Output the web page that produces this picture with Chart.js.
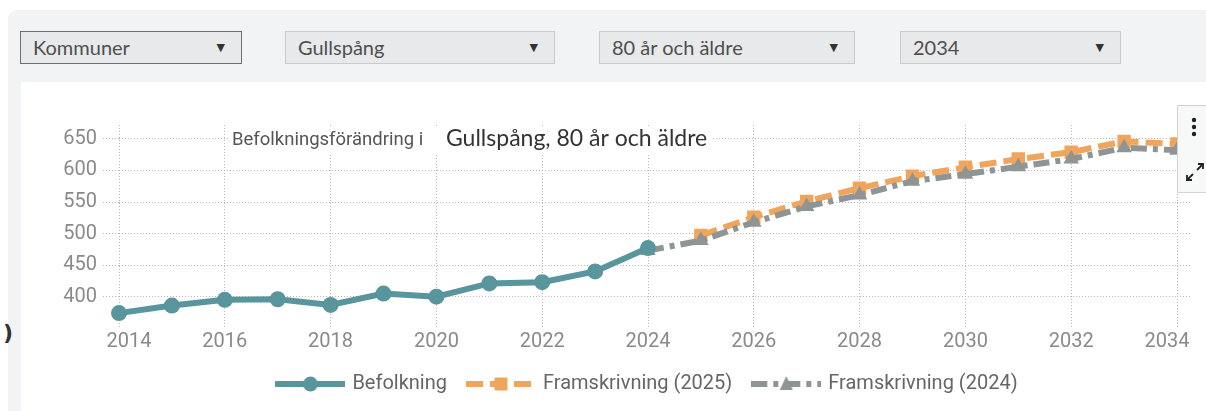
<!DOCTYPE html>
<html>
<head>
<meta charset="utf-8">
<script src="https://cdn.jsdelivr.net/npm/chart.js@4"></script>
<style>
  body { margin: 0; width: 1206px; height: 411px; overflow: hidden; background: #fff; position: relative; font-family: Lato, sans-serif; }
  .panel { position: absolute; left: 8px; top: 10px; right: -20px; bottom: -20px; background: #f2f3f4; border-radius: 9px 0 0 0; }
  .dd { position: absolute; top: 31px; height: 31px; background: #e7e9eb; border: 1px solid #c9cbce; color: #4f4f4f; font-size: 20px; line-height: 31px; box-sizing: content-box; }
  .dd span.t { position: absolute; left: 12px; }
  .dd span.a { position: absolute; right: 16px; font-family: "DejaVu Sans", sans-serif; font-size: 11px; color: #333; }
  .chartbox { position: absolute; left: 21px; top: 82px; width: 1185px; height: 329px; background: #fff; }
  .tools { position: absolute; left: 1177px; top: 105px; width: 40px; height: 86px; background: #f7f8f8; border: 1px solid #d2d4d6; }
  .paren { position: absolute; left: 3px; top: 320px; font: bold 22px "DejaVu Sans", sans-serif; color: #333; }
</style>
</head>
<body>
<div class="panel"></div>
<div class="dd" style="left:20px;width:220px;border-color:#6e7074"><span class="t">Kommuner</span><span class="a">▼</span></div>
<div class="dd" style="left:285px;width:268px"><span class="t">Gullspång</span><span class="a">▼</span></div>
<div class="dd" style="left:599px;width:254px"><span class="t">80 år och äldre</span><span class="a">▼</span></div>
<div class="dd" style="left:900px;width:219px"><span class="t">2034</span><span class="a">▼</span></div>
<div class="chartbox"><canvas id="chart" width="1185" height="329"></canvas></div>
<div class="tools">
  <svg width="30" height="86" viewBox="0 0 30 86">
    <circle cx="16" cy="14" r="2.2" fill="#222"/>
    <circle cx="16" cy="21" r="2.2" fill="#222"/>
    <circle cx="16" cy="28" r="2.2" fill="#222"/>
    <g stroke="#222" stroke-width="1.8" fill="none">
      <line x1="9" y1="74" x2="15" y2="68"/>
      <polyline points="9,69 9,74 14,74"/>
      <line x1="19" y1="64" x2="25" y2="58"/>
      <polyline points="20,58 25,58 25,63"/>
    </g>
  </svg>
</div>
<div class="paren">)</div>
<script>
const years = ['2014','2015','2016','2017','2018','2019','2020','2021','2022','2023','2024',
               '2025','2026','2027','2028','2029','2030','2031','2032','2033','2034'];
const befolkning = [374, 386, 395, 396, 387, 405, 400, 421, 423, 440, 477,
                    null, null, null, null, null, null, null, null, null, null];
const framskrivning2025 = [null, null, null, null, null, null, null, null, null, null, null,
                           497, 526, 551, 572, 591, 605, 618, 629, 646, 642];
const framskrivning2024 = [null, null, null, null, null, null, null, null, null, null, 473,
                           489, 518, 543, 561, 583, 594, 606, 618, 636, 632];
const yTicks = [400, 450, 500, 550, 600, 650];

const TEAL = '#58959c';
const ORANGE = '#f0a55c';
const GRAY = '#8f9494';
const GRID = '#b9b9b9';
const FONT = "Roboto, sans-serif";

// legend symbol: a short piece of the line with its marker in the middle
function legendSymbol(color, dash, style, lw) {
  var c = document.createElement('canvas');
  c.width = 70; c.height = 22;
  var g = c.getContext('2d');
  g.strokeStyle = color; g.fillStyle = color; g.lineWidth = lw;
  g.setLineDash(dash);
  g.beginPath(); g.moveTo(0, 11); g.lineTo(70, 11); g.stroke();
  g.setLineDash([]);
  g.beginPath();
  if (style === 'circle') g.arc(35, 11, 7.5, 0, Math.PI * 2);
  if (style === 'rect') g.rect(28.5, 4.5, 13, 13);
  if (style === 'triangle') { g.moveTo(35, 3); g.lineTo(41.5, 17); g.lineTo(28.5, 17); g.closePath(); }
  g.fill();
  return c;
}

const symbols = [
  legendSymbol(TEAL, [], 'circle', 6),
  legendSymbol(ORANGE, [17, 7], 'rect', 6),
  legendSymbol(GRAY, [16, 6, 5, 6], 'triangle', 6)
];

// two-part heading drawn inside the plot, on a white patch over the grid
const headingPlugin = {
  id: 'heading',
  beforeDatasetsDraw(chart) {
    var ctx = chart.ctx;
    ctx.save();
    ctx.textBaseline = 'middle';
    ctx.font = '23px Lato, sans-serif';
    var w2 = ctx.measureText('Gullspång, 80 år och äldre').width;
    ctx.fillStyle = '#fff';
    ctx.fillRect(208, 44, 425 + w2 - 208 + 4, 27);
    ctx.fillStyle = '#555';
    ctx.font = '18.5px ' + FONT;
    ctx.fillText('Befolkningsförändring i', 211, 58);
    ctx.fillStyle = '#333';
    ctx.font = '23px Lato, sans-serif';
    ctx.fillText('Gullspång, 80 år och äldre', 425, 57);
    ctx.restore();
  }
};

const ctx = document.getElementById('chart').getContext('2d');
new Chart(ctx, {
  type: 'line',
  data: {
    labels: years,
    datasets: [
      {
        label: 'Befolkning',
        data: befolkning,
        order: 0,
        borderColor: TEAL,
        backgroundColor: TEAL,
        borderWidth: 6,
        pointStyle: 'circle',
        pointRadius: 8,
        pointBorderWidth: 0,
        fill: false
      },
      {
        label: 'Framskrivning (2025)',
        data: framskrivning2025,
        order: 2,
        borderColor: ORANGE,
        backgroundColor: ORANGE,
        borderWidth: 6,
        borderDash: [17, 7],
        pointStyle: 'rect',
        pointRadius: 9.5,
        pointBorderWidth: 0,
        fill: false
      },
      {
        label: 'Framskrivning (2024)',
        data: framskrivning2024,
        order: 1,
        borderColor: GRAY,
        backgroundColor: GRAY,
        borderWidth: 6,
        borderDash: [16, 6, 5, 6],
        pointStyle: 'triangle',
        pointRadius: 9,
        pointBorderWidth: 0,
        fill: false
      }
    ]
  },
  options: {
    responsive: false,
    animation: false,
    layout: { padding: { top: 43, right: 0, bottom: 7, left: 0 } },
    plugins: {
      tooltip: { enabled: false },
      legend: {
        position: 'bottom',
        fullSize: false,
        labels: {
          usePointStyle: true,
          pointStyleWidth: 64,
          padding: 22,
          color: '#666',
          font: { family: FONT, size: 20 },
          generateLabels: function(chart) {
            return chart.data.datasets.map(function(ds, i) {
              return {
                text: ds.label,
                pointStyle: symbols[i],
                fillStyle: ds.borderColor,
                strokeStyle: ds.borderColor,
                lineWidth: 0,
                hidden: false,
                datasetIndex: i,
                fontColor: '#666'
              };
            });
          }
        }
      }
    },
    scales: {
      x: {
        type: 'category',
        offset: false,
        grid: {
          color: function(c) { return c.index % 2 === 0 ? GRID : 'transparent'; },
          drawTicks: false
        },
        border: { display: false, dash: [1, 2] },
        ticks: {
          autoSkip: false,
          maxRotation: 0,
          padding: 3,
          color: '#8a8a8a',
          font: { family: FONT, size: 20 },
          callback: function(v, i) {
            if (i % 2 !== 0) return '';
            var s = this.getLabelForValue(v);
            // end labels are pulled inwards a little, as in the original
            if (i === 0) return '    ' + s;
            if (i === years.length - 1) return s + '    ';
            return s;
          }
        },
        afterFit: function(scale) {
          scale.height = 25;
          scale.paddingLeft = 0;
          scale.paddingRight = 0;
        }
      },
      y: {
        min: 352,
        max: 672,
        grid: { color: GRID, tickLength: 16, tickColor: GRID, tickBorderDash: [1, 2] },
        border: { display: false, dash: [1, 2] },
        ticks: { padding: 6, color: '#8a8a8a', font: { family: FONT, size: 20 } },
        afterBuildTicks: function(scale) { scale.ticks = yTicks.map(function(v) { return { value: v }; }); },
        afterFit: function(scale) { scale.width = 98; }
      },
      y2: {
        position: 'right',
        min: 352,
        max: 672,
        grid: { drawOnChartArea: false, color: GRID, tickLength: 13, tickColor: GRID, tickBorderDash: [1, 2] },
        border: { display: false },
        ticks: { display: false },
        afterBuildTicks: function(scale) { scale.ticks = yTicks.map(function(v) { return { value: v }; }); },
        afterFit: function(scale) { scale.width = 29; }
      }
    }
  },
  plugins: [headingPlugin]
});
</script>
</body>
</html>
